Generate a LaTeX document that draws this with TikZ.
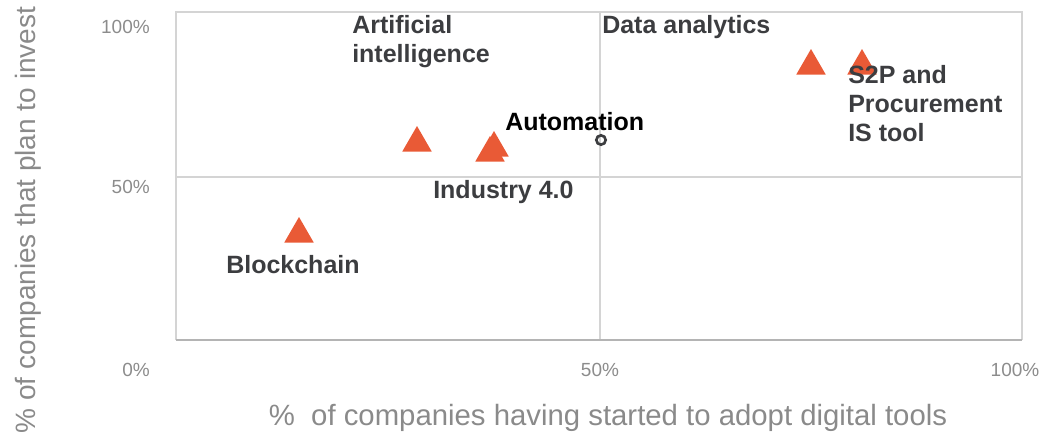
\documentclass[tikz,border=0pt]{standalone}
\usepackage{fontspec}
\setmainfont{Liberation Sans}
\usetikzlibrary{shapes.geometric}
\definecolor{rougeorange}{HTML}{E95A36}
\definecolor{grisgrille}{HTML}{D4D4D4}
\definecolor{grisaxe}{HTML}{B4B4B4}
\definecolor{grisgrad}{HTML}{8C8C8C}
\definecolor{gristitre}{HTML}{8A8A8A}
\definecolor{gristexte}{HTML}{3C3D40}
\begin{document}
\begin{tikzpicture}[x=0.75pt,y=-0.75pt]
% Styles (MODIFIABLES)
\tikzstyle{grille}=[draw=grisgrille,line width=1.5pt]
\tikzstyle{axe}=[draw=grisaxe,line width=1.5pt]
\tikzstyle{marque}=[regular polygon,regular polygon sides=3,fill=rougeorange,inner sep=0pt,minimum size=25.5pt]
\tikzstyle{rond}=[circle,draw=gristexte,line width=2pt,inner sep=0pt,minimum size=7pt]
\tikzstyle{etiquette}=[font=\fontsize{18.75}{21.75}\selectfont\bfseries,text=gristexte,anchor=west,align=left,inner sep=0pt]
\tikzstyle{graduation}=[font=\fontsize{14.25}{16}\selectfont,text=grisgrad,inner sep=0pt]
\tikzstyle{titre}=[font=\fontsize{21}{24}\selectfont,text=gristitre,inner sep=0pt]
% Cadre
\useasboundingbox (0,0) rectangle (1051,436);
\coordinate (HG) at (176,12);
\coordinate (HD) at (1022,12);
\coordinate (BG) at (176,340);
\coordinate (BD) at (1022,340);
\coordinate (HM) at (600,12);
\coordinate (BM) at (600,340);
\coordinate (GM) at (176,177);
\coordinate (DM) at (1022,177);
% Grille
\draw[grille] (BG)--(HG)--(HD)--(BD);
\draw[grille] (HM)--(BM);
\draw[grille] (GM)--(DM);
\draw[axe] (BG)--(BD);
% Graduations
\node[graduation,anchor=east] (Y100) at (150,27) {100\%};
\node[graduation,anchor=east] (Y50) at (150,187) {50\%};
\node[graduation,anchor=east] (Y0) at (150,370) {0\%};
\node[graduation] (X50) at (600,370) {50\%};
\node[graduation] (X100) at (1015,370) {100\%};
% Titres des axes
\node[titre,font=\fontsize{22}{24}\selectfont] (TitreX) at (608,418) {\%\ \ of companies having started to adopt digital tools};
\node[titre,rotate=90] (TitreY) at (28,220) {\% of companies that plan to invest};
% Points
\node[marque] (Blockchain) at (299,234) {};
\node[marque] (IA) at (417,143) {};
\node[marque] (IndustrieA) at (494,148) {};
\node[marque] (IndustrieB) at (490,153) {};
\node[marque] (Donnees) at (811,66) {};
\node[marque] (SdP) at (862,66) {};
\node[rond] (Automatisation) at (601,140) {};
% Etiquettes
\node[etiquette] (LabIA) at (352,41.5) {Artificial\\intelligence};
\node[etiquette] (LabDonnees) at (602,27) {Data analytics};
\node[etiquette] (LabSdP) at (848,104) {S2P and\\Procurement\\IS tool};
\node[etiquette,text=black] (LabAuto) at (505,122) {Automation};
\node[etiquette] (LabIndustrie) at (433,192) {Industry 4.0};
\node[etiquette] (LabBlockchain) at (226,265) {Blockchain};
\end{tikzpicture}
\end{document}
